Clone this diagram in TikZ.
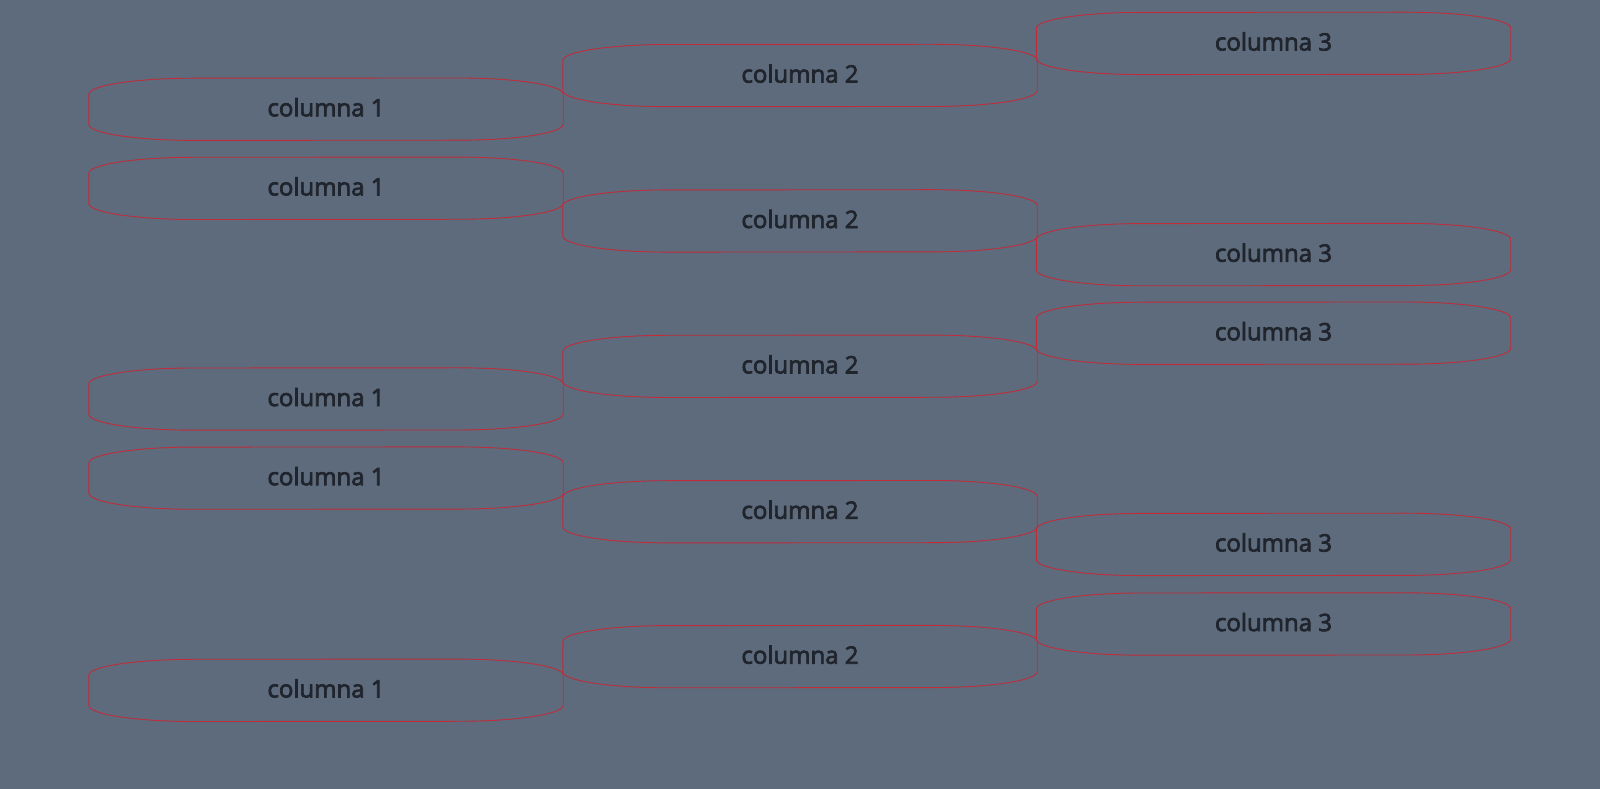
\documentclass[tikz,border=0pt]{standalone}
\usepackage{fontspec}
\setmainfont{Open Sans}
\newfontfamily\pillfont{Open Sans}[FakeBold=3]
\definecolor{bgcol}{RGB}{93,107,125}
\definecolor{edgecol}{RGB}{192,44,58}
\definecolor{txtcol}{RGB}{32,36,44}
\tikzset{
  pill/.style={inner sep=0pt, minimum width=474pt, minimum height=62pt, text=txtcol,
    font=\pillfont\fontsize{24}{28}\selectfont, text depth=4pt},
  pillborder/.style={draw=edgecol, line width=0.9pt}
}
\newcommand\pillshape[1]{%
  \draw[pillborder] ([yshift=-15pt]#1.west) -- ([yshift=15pt]#1.west)
    arc[start angle=180,end angle=90,x radius=105pt,y radius=16pt]
    -- ([xshift=-105pt]#1.north east)
    arc[start angle=90,end angle=0,x radius=105pt,y radius=16pt]
    -- ([yshift=-15pt]#1.east)
    arc[start angle=0,end angle=-90,x radius=105pt,y radius=16pt]
    -- ([xshift=105pt]#1.south west)
    arc[start angle=-90,end angle=-180,x radius=105pt,y radius=16pt]
    -- cycle;}
\begin{document}
\begin{tikzpicture}[x=1pt,y=1pt]
\fill[bgcol] (0,0) rectangle (1600,789);
\useasboundingbox (0,0) rectangle (1600,789);
% column 1
\node[pill] (a1) at (326,789-109.2) {columna 1};
\node[pill] (a2) at (326,789-188.3) {columna 1};
\node[pill] (a3) at (326,789-399.0) {columna 1};
\node[pill] (a4) at (326,789-478.1) {columna 1};
\node[pill] (a5) at (326,789-690.3) {columna 1};
% column 2
\node[pill] (b1) at (800,789-75.5) {columna 2};
\node[pill] (b2) at (800,789-220.9) {columna 2};
\node[pill] (b3) at (800,789-366.3) {columna 2};
\node[pill] (b4) at (800,789-511.7) {columna 2};
\node[pill] (b5) at (800,789-656.6) {columna 2};
% column 3
\node[pill] (c1) at (1273.5,789-43.4) {columna 3};
\node[pill] (c2) at (1273.5,789-254.6) {columna 3};
\node[pill] (c3) at (1273.5,789-333.2) {columna 3};
\node[pill] (c4) at (1273.5,789-544.4) {columna 3};
\node[pill] (c5) at (1273.5,789-624.0) {columna 3};
\foreach \n in {a1,a2,a3,a4,a5,b1,b2,b3,b4,b5,c1,c2,c3,c4,c5}{\pillshape{\n}}
\end{tikzpicture}
\end{document}
